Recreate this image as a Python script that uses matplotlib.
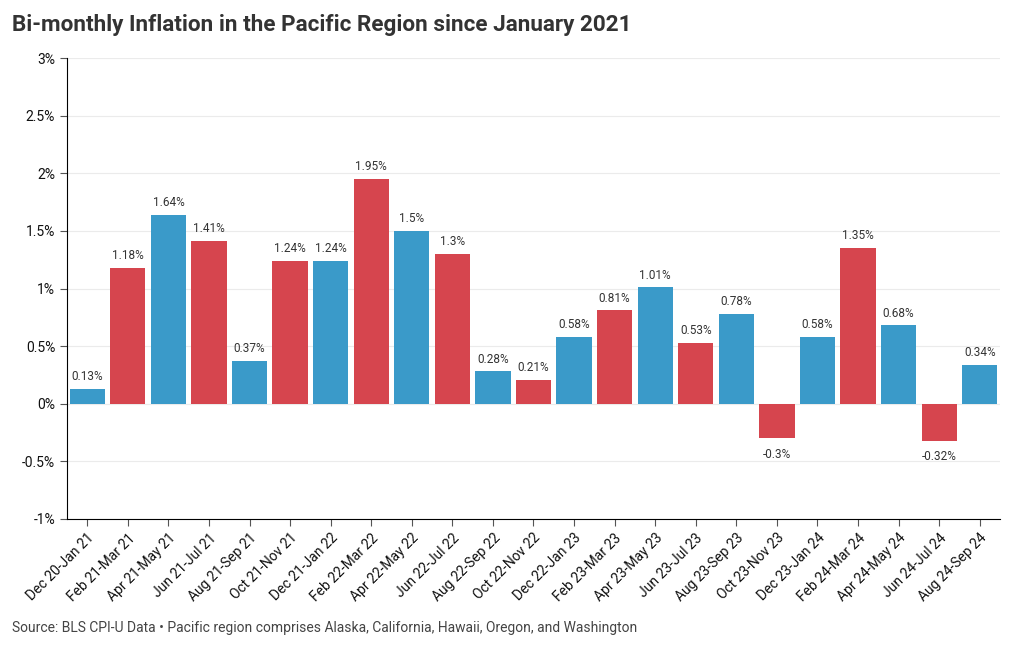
import matplotlib
matplotlib.use("Agg")
import matplotlib.pyplot as plt
from matplotlib.ticker import FuncFormatter

plt.rcParams['font.family'] = ['Roboto', 'DejaVu Sans']

periods = ["Dec 20-Jan 21", "Feb 21-Mar 21", "Apr 21-May 21", "Jun 21-Jul 21",
           "Aug 21-Sep 21", "Oct 21-Nov 21", "Dec 21-Jan 22", "Feb 22-Mar 22",
           "Apr 22-May 22", "Jun 22-Jul 22", "Aug 22-Sep 22", "Oct 22-Nov 22",
           "Dec 22-Jan 23", "Feb 23-Mar 23", "Apr 23-May 23", "Jun 23-Jul 23",
           "Aug 23-Sep 23", "Oct 23-Nov 23", "Dec 23-Jan 24", "Feb 24-Mar 24",
           "Apr 24-May 24", "Jun 24-Jul 24", "Aug 24-Sep 24"]
inflation = [0.13, 1.18, 1.64, 1.41, 0.37, 1.24, 1.24, 1.95, 1.5, 1.3, 0.28, 0.21,
             0.58, 0.81, 1.01, 0.53, 0.78, -0.3, 0.58, 1.35, 0.68, -0.32, 0.34]
labels = ["0.13%", "1.18%", "1.64%", "1.41%", "0.37%", "1.24%", "1.24%", "1.95%",
          "1.5%", "1.3%", "0.28%", "0.21%", "0.58%", "0.81%", "1.01%", "0.53%",
          "0.78%", "-0.3%", "0.58%", "1.35%", "0.68%", "-0.32%", "0.34%"]
y_ticks = [-1, -0.5, 0, 0.5, 1, 1.5, 2, 2.5, 3]

BLUE = "#3a9ac9"
RED = "#d6454e"
colors = [BLUE if i % 2 == 0 else RED for i in range(len(periods))]

fig = plt.figure(figsize=(10.2, 6.5), dpi=100)
ax = fig.add_axes([67/1020, 1-519/650, (1000-67)/1020, (519-58)/650])

x = list(range(len(periods)))
ax.bar(x, inflation, width=0.87, color=colors, zorder=2)

for xi, v, lab in zip(x, inflation, labels):
    if v >= 0:
        ax.text(xi, v + 0.05, lab, ha='center', va='bottom', fontsize=8.5, color='#333333')
    else:
        ax.text(xi, v - 0.08, lab, ha='center', va='top', fontsize=8.5, color='#333333')

ax.set_xlim(-0.5, len(periods) - 0.5)
ax.set_ylim(-1, 3)
ax.set_yticks(y_ticks)
ax.yaxis.set_major_formatter(FuncFormatter(lambda v, p: f"{v:g}%"))
ax.set_xticks(x)
ax.set_xticklabels(periods, rotation=45, ha='right', rotation_mode='anchor', fontsize=10, color='#111111')
ax.tick_params(axis='y', labelsize=10, labelcolor='#111111', length=5, color='#555555')
ax.tick_params(axis='x', length=5, color='#555555')
ax.grid(axis='y', color='#ebebeb', linewidth=0.8, zorder=0)
ax.set_axisbelow(True)
for s in ['top', 'right']:
    ax.spines[s].set_visible(False)
ax.spines['left'].set_color('black')
ax.spines['bottom'].set_color('black')

fig.text(12/1020, 1-25/650, "Bi-monthly Inflation in the Pacific Region since January 2021",
         fontsize=16.2, fontweight='bold', color='#333333', va='center', ha='left')
fig.text(12/1020, 1-628/650,
         "Source: BLS CPI-U Data \u2022 Pacific region comprises Alaska, California, Hawaii, Oregon, and Washington",
         fontsize=10, color='#444444', va='center', ha='left')

fig.savefig("out.png", dpi=100)
